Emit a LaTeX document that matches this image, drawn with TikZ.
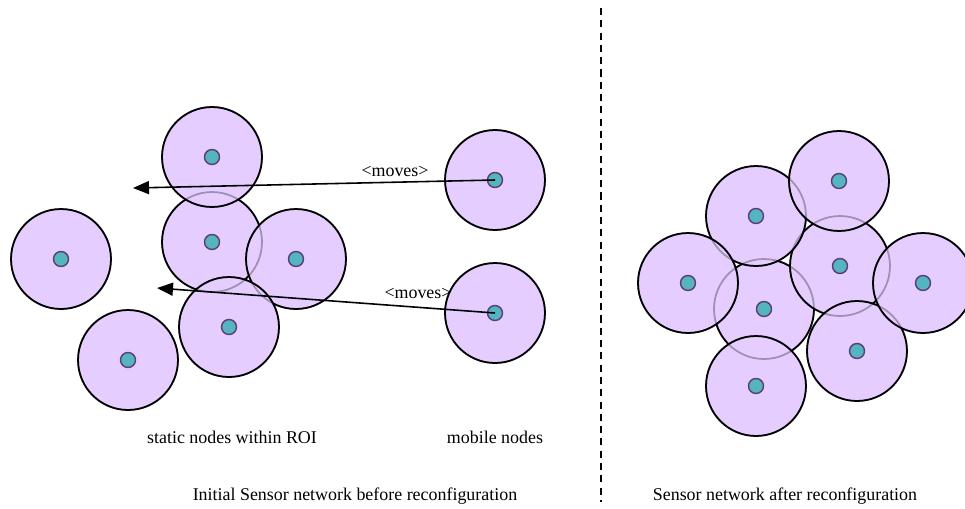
\documentclass[tikz,border=0pt]{standalone}
\usepackage{fontspec}
\setmainfont{Liberation Serif}
\usetikzlibrary{arrows.meta}
\definecolor{rangefill}{RGB}{229,206,255}
\definecolor{dotfill}{RGB}{84,180,192}
\definecolor{dotline}{RGB}{90,60,120}
\tikzstyle{cover}=[draw,circle,fill=rangefill,line width=1pt,minimum
size=2cm,inner sep=0pt]
\tikzstyle{sensor}=[draw=dotline,circle,fill=dotfill,line width=.8pt,
inner sep=0pt,minimum size=.3cm]
\tikzstyle{faded}=[draw opacity=.3,line width=1pt]
\tikzstyle{movearrow}=[-{Triangle[length=.32cm,width=.26cm]},line width=.9pt]
\tikzstyle{capt}=[font=\fontsize{10.2}{12}\selectfont,inner sep=0pt]

\begin{document}
\begin{tikzpicture}[x=0.02cm, y=-0.02cm]
  \useasboundingbox (0,0) rectangle (965,508);

  % initial network
  \node[cover] (s1) at (61,259)  {};
  \node[cover] (s2) at (128,360) {};
  \node[cover] (s3) at (212,242) {};
  \node[cover] (s4) at (212,157) {};
  \node[cover] (s5) at (296,259) {};
  \node[cover] (s6) at (229,327) {};
  \node[cover] (m1) at (495,180) {};
  \node[cover] (m2) at (495,313) {};

  % after reconfiguration
  \node[cover] (r1) at (764,309) {};
  \node[cover] (r2) at (840,266) {};
  \node[cover] (r3) at (756,216) {};
  \node[cover] (r4) at (839,181) {};
  \node[cover] (r5) at (688,283) {};
  \node[cover] (r6) at (756,386) {};
  \node[cover] (r7) at (857,351) {};
  \node[cover] (r8) at (923,283) {};

  \foreach \n in {s1,s2,s3,s4,s5,s6,m1,m2,r1,r2,r3,r4,r5,r6,r7,r8}
    \draw[faded] (\n.center) circle[radius=1cm];
  \foreach \n in {s1,s2,s3,s4,s5,s6,m1,m2,r1,r2,r3,r4,r5,r6,r7,r8}
    \node[sensor] (\n d) at (\n) {};

  \coordinate (t1) at (133,188);
  \coordinate (t2) at (157,288);
  \draw[movearrow] (m1d.center) -- (t1);
  \draw[movearrow] (m2d.center) -- (t2);
  \node[capt] (mv1) at (395,171) {<moves>};
  \node[capt] (mv2) at (418,293) {<moves>};

  \draw[dashed, line width=.9pt, dash pattern=on 4pt off 3pt] (601,8) -- (601,502);

  \node[capt] (lstatic) at (232,437) {static nodes within ROI};
  \node[capt] (lmobile) at (495,437) {mobile nodes};
  \node[capt] (linit) at (355,496) {Initial Sensor network before reconfiguration};
  \node[capt] (lafter) at (785,496) {Sensor network after reconfiguration};
\end{tikzpicture}
\end{document}
